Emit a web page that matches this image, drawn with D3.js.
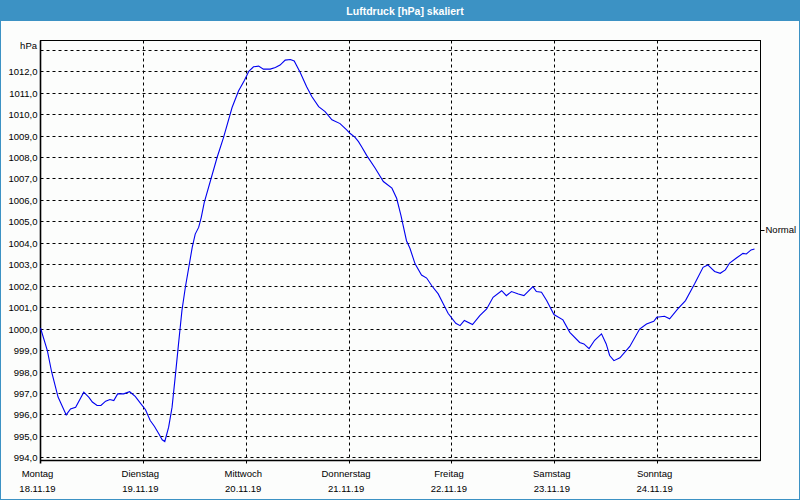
<!DOCTYPE html>
<html><head><meta charset="utf-8">
<script src="https://cdn.jsdelivr.net/npm/d3@7"></script>
<style>html,body{margin:0;padding:0;background:#fff}svg{display:block}</style>
</head><body>
<script>
const titleText = "Luftdruck [hPa] skaliert";
const dayNames = ["Montag","Dienstag","Mittwoch","Donnerstag","Freitag","Samstag","Sonntag"];
const dayDates = ["18.11.19","19.11.19","20.11.19","21.11.19","22.11.19","23.11.19","24.11.19"];
const yTickValues = [994,995,996,997,998,999,1000,1001,1002,1003,1004,1005,1006,1007,1008,1009,1010,1011,1012];
const unitLabel = "hPa";
const unitValue = 1013;
const normalLabel = "Normal";
const normalValue = 1004.6;
// hours since Monday 18.11.19 00:00
const hours = [0,1.6,2.6,4.1,6.0,7.0,8.2,10.1,11.3,12.1,13.2,14.1,15.2,16.2,17.1,18.0,19.4,20.8,22.1,23.3,24.5,25.6,26.6,27.6,28.4,29.0,29.9,30.7,31.5,32.2,33.0,33.8,34.6,35.4,36.1,36.9,37.5,38.2,41.2,42.7,44.7,46.2,47.6,48.6,49.7,50.9,52.0,53.6,54.8,55.9,57.1,58.3,59.2,60.6,62.1,63.3,64.9,66.4,68.0,69.9,71.5,72.2,73.4,74.2,75.0,76.1,78.1,80.0,82.0,83.1,84.1,85.4,86.2,87.4,88.9,90.1,91.3,92.8,94.0,95.1,96.9,97.9,98.9,100.8,102.5,104.1,105.6,107.6,108.7,109.9,111.5,112.8,114.9,115.7,116.9,118.1,119.8,121.9,123.5,125.8,126.8,128.0,129.3,130.9,132.0,132.8,133.8,135.2,137.5,139.8,141.4,143.1,143.8,145.6,146.8,148.7,150.5,152.6,154.6,155.7,157.3,158.6,159.8,160.8,162.3,163.9,164.7,165.8,166.6];
const pressure = [1000.05,999.0,998.0,996.83,996.0,996.28,996.36,997.06,996.82,996.6,996.44,996.44,996.64,996.72,996.67,996.98,996.98,997.08,996.86,996.55,996.24,995.74,995.46,995.12,994.84,994.76,995.43,996.36,997.9,999.3,1000.86,1001.95,1002.88,1003.81,1004.43,1004.74,1005.2,1005.9,1008.0,1008.93,1010.33,1011.1,1011.6,1012.02,1012.23,1012.26,1012.12,1012.12,1012.2,1012.31,1012.54,1012.57,1012.5,1011.96,1011.3,1010.84,1010.37,1010.14,1009.76,1009.58,1009.28,1009.13,1008.94,1008.74,1008.48,1008.1,1007.5,1006.88,1006.57,1006.1,1005.3,1004.12,1003.77,1003.04,1002.52,1002.38,1002.02,1001.64,1001.17,1000.74,1000.27,1000.16,1000.4,1000.21,1000.63,1000.94,1001.48,1001.79,1001.56,1001.75,1001.64,1001.56,1001.98,1001.75,1001.72,1001.33,1000.68,1000.43,999.85,999.38,999.31,999.09,999.48,999.78,999.31,998.77,998.53,998.66,999.19,1000.0,1000.24,1000.36,1000.55,1000.6,1000.48,1000.94,1001.33,1002.1,1002.88,1002.99,1002.69,1002.6,1002.76,1003.08,1003.3,1003.53,1003.5,1003.69,1003.73];

const W = 800, H = 500;
const blue = "#3c92c4";
const font = "'Liberation Sans', Arial, sans-serif";
const start = Date.UTC(2019, 10, 18);
const HOUR = 3600e3;
const svg = d3.select("body").append("svg").attr("width", W).attr("height", H);

svg.append("rect").attr("x",0).attr("y",0).attr("width",W).attr("height",H).attr("fill","#fcfdfc");
svg.append("rect").attr("x",0.5).attr("y",0.5).attr("width",W-1).attr("height",H-1).attr("fill","none").attr("stroke",blue).attr("stroke-width",1);
svg.append("rect").attr("x",0).attr("y",0).attr("width",W).attr("height",21).attr("fill",blue);
svg.append("text").attr("x",405).attr("y",14.5).attr("text-anchor","middle")
  .attr("fill","#fff").attr("font-family",font).attr("font-weight","bold").attr("font-size","10.5px").text(titleText);

const x = d3.scaleUtc().domain([new Date(start), new Date(start + 7*24*HOUR)]).range([40.5, 760.5]);
const y = d3.scaleLinear().domain([994, 1012]).range([457.8, 71.7]);
const L = 40.5, R = 760.5, T = 40.5, B = 460.5;
const crisp = v => Math.round(v - 0.5) + 0.5;

const loc = d3.formatLocale({decimal: ",", thousands: ".", grouping: [3], currency: ["", "€"]});
const fmt = loc.format(".1f");

// horizontal grid
const g = svg.append("g");
g.selectAll("line.h").data(yTickValues.concat([unitValue])).join("line")
  .attr("x1", L).attr("x2", R)
  .attr("y1", d => crisp(y(d))).attr("y2", d => crisp(y(d)))
  .attr("stroke", "#000").attr("stroke-width", 1).attr("stroke-dasharray", "3,3");

// vertical day lines
const dayTimes = dayNames.map((d, i) => new Date(start + i*24*HOUR));
g.selectAll("line.v").data(dayTimes.slice(1)).join("line")
  .attr("x1", d => crisp(x(d))).attr("x2", d => crisp(x(d)))
  .attr("y1", T).attr("y2", B + 4)
  .attr("stroke", "#000").attr("stroke-width", 1).attr("stroke-dasharray", "3,3");

// frame
svg.append("rect").attr("x", L).attr("y", T).attr("width", R - L).attr("height", B - T)
  .attr("fill", "none").attr("stroke", "#000").attr("stroke-width", 1);
svg.append("line").attr("x1", L).attr("x2", L).attr("y1", T).attr("y2", B + 3).attr("stroke", "#000").attr("stroke-width", 1.6);
svg.append("line").attr("x1", L).attr("x2", R).attr("y1", B).attr("y2", B).attr("stroke", "#000").attr("stroke-width", 1.6);

// y axis labels
const yAxis = d3.axisLeft(y).tickValues(yTickValues).tickFormat(fmt).tickSize(0).tickPadding(3);
const ya = svg.append("g").attr("transform", `translate(${L},0)`).call(yAxis);
ya.select(".domain").remove();
ya.selectAll("text").attr("font-family", font).attr("font-size", "9.5px").attr("fill", "#000");
svg.append("text").attr("x", L - 3.5).attr("y", y(unitValue) - 4).attr("dy", "0.32em")
  .attr("text-anchor", "end").attr("font-family", font).attr("font-size", "9.5px").attr("fill", "#000").text(unitLabel);

// x labels
const xl = svg.append("g");
xl.selectAll("text.day").data(dayNames).join("text")
  .attr("x", (d, i) => x(dayTimes[i]) - 3).attr("y", 476.5).attr("text-anchor", "middle")
  .attr("font-family", font).attr("font-size", "9.5px").attr("fill", "#000").text(d => d);
xl.selectAll("text.date").data(dayDates).join("text")
  .attr("x", (d, i) => x(dayTimes[i]) - 3).attr("y", 491.5).attr("text-anchor", "middle")
  .attr("font-family", font).attr("font-size", "9.5px").attr("fill", "#000").text(d => d);

// Normal marker
svg.append("line").attr("x1", R).attr("x2", R + 4).attr("y1", crisp(y(normalValue))).attr("y2", crisp(y(normalValue)))
  .attr("stroke", "#000").attr("stroke-width", 1);
svg.append("text").attr("x", R + 5).attr("y", y(normalValue)).attr("dy", "0.32em")
  .attr("font-family", font).attr("font-size", "9.5px").attr("fill", "#000").text(normalLabel);

// line
const pts = hours.map((h, i) => ({t: new Date(start + h*HOUR), v: pressure[i]}));
svg.append("path").datum(pts)
  .attr("fill", "none").attr("stroke", "#0000f0").attr("stroke-width", 1.1)
  .attr("d", d3.line().x(d => x(d.t)).y(d => y(d.v)));
</script>
</body></html>
